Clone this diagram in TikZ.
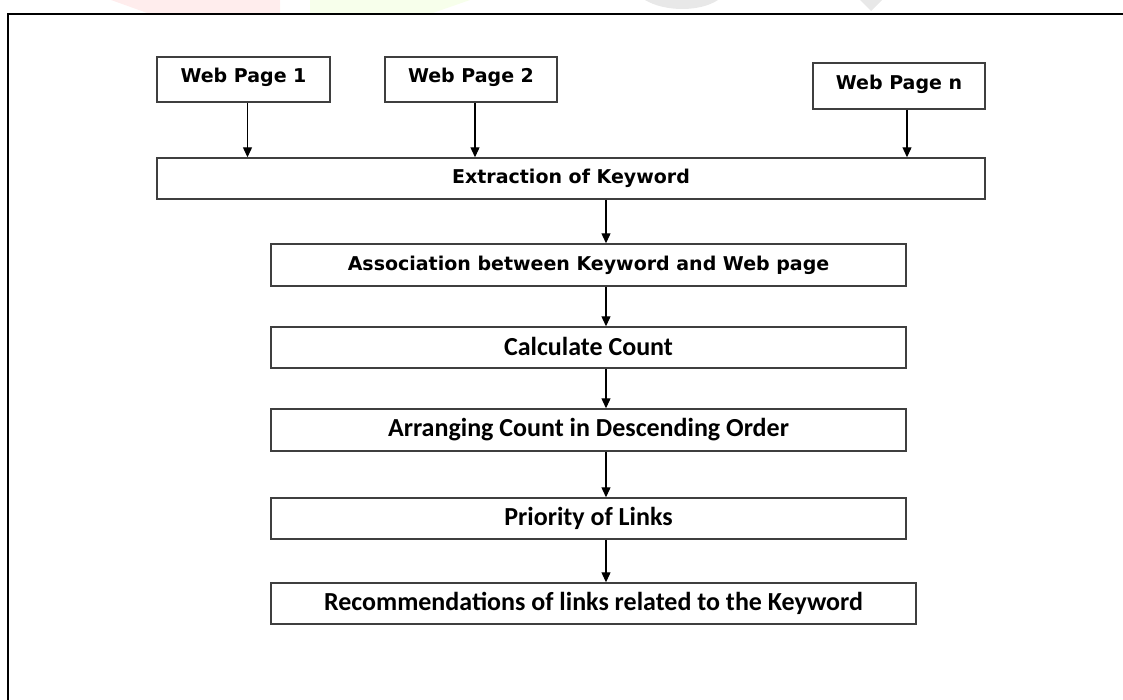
\documentclass[tikz,border=0pt]{standalone}
\usepackage{fontspec}
\setmainfont{DejaVu Sans}
\newfontfamily\calfont{Carlito}
\usetikzlibrary{arrows.meta}
\definecolor{boxline}{HTML}{3F3F3F}
\begin{document}
\begin{tikzpicture}[x=1pt, y=-1pt,
  box/.style={draw=boxline, line width=1.4pt, inner sep=0pt,
    font=\fontsize{19}{22}\selectfont\bfseries},
  cbox/.style={box, font=\fontsize{26}{30}\selectfont\calfont\bfseries},
  arr/.style={line width=1.2pt, -{Triangle[width=9pt,length=10pt]}}]

\useasboundingbox (0,0) rectangle (1123,700);

% Watermark remnants
\fill[red!7] (111,0) -- (280,0) -- (280,14) -- (150,14) -- cycle;
\fill[green!40!yellow!8] (310,0) -- (470,0) -- (430,14) -- (310,14) -- cycle;
\fill[black!9] (645,0) -- (718,0) .. controls (700,12) and (665,12) .. (645,0) -- cycle;
\fill[black!9] (860,0) -- (882,0) -- (871,11) -- cycle;

% Frame
\draw[line width=2.5pt] (8,700) -- (8,14) -- (1123,14);

% Web pages
\node[box, minimum width=173pt, minimum height=45pt] (wp1) at (243.5,79.5) {\raisebox{8pt}{Web Page 1}};
\node[box, minimum width=172pt, minimum height=45pt] (wp2) at (471,79.5) {\raisebox{8pt}{Web Page 2}};
\node[box, minimum width=172pt, minimum height=46pt] (wpn) at (899,86) {\raisebox{8pt}{Web Page n}};

% Steps
\node[box, minimum width=828pt, minimum height=41pt] (extract) at (571,178.5) {\raisebox{2pt}{Extraction of Keyword}};
\node[box, minimum width=635pt, minimum height=42pt] (assoc) at (588.5,265) {\raisebox{2pt}{Association between Keyword and Web page}};
\node[cbox, minimum width=635pt, minimum height=41pt] (calc) at (588.5,347.5) {\raisebox{2pt}{Calculate Count}};
\node[cbox, minimum width=635pt, minimum height=42pt] (arrange) at (588.5,430) {\raisebox{2pt}{Arranging Count in Descending Order}};
\node[cbox, minimum width=635pt, minimum height=41pt] (prio) at (588.5,518.5) {\raisebox{2pt}{Priority of Links}};
\node[cbox, minimum width=645pt, minimum height=41pt] (recom) at (593.5,603.5) {\raisebox{2pt}{Recommendations of links related to the Keyword}};

% Arrows into extraction
\coordinate (a1) at ([xshift=4pt]wp1.south);
\coordinate (a2) at ([xshift=4pt]wp2.south);
\coordinate (an) at ([xshift=8pt]wpn.south);
\draw[arr] (a1) -- (a1 |- extract.north);
\draw[arr] (a2) -- (a2 |- extract.north);
\draw[arr] (an) -- (an |- extract.north);

% Main column
\coordinate (col) at (606,0);
\draw[arr] (extract.south -| col) -- (assoc.north -| col);
\draw[arr] (assoc.south -| col) -- (calc.north -| col);
\draw[arr] (calc.south -| col) -- (arrange.north -| col);
\draw[arr] (arrange.south -| col) -- (prio.north -| col);
\draw[arr] (prio.south -| col) -- (recom.north -| col);

\end{tikzpicture}
\end{document}
